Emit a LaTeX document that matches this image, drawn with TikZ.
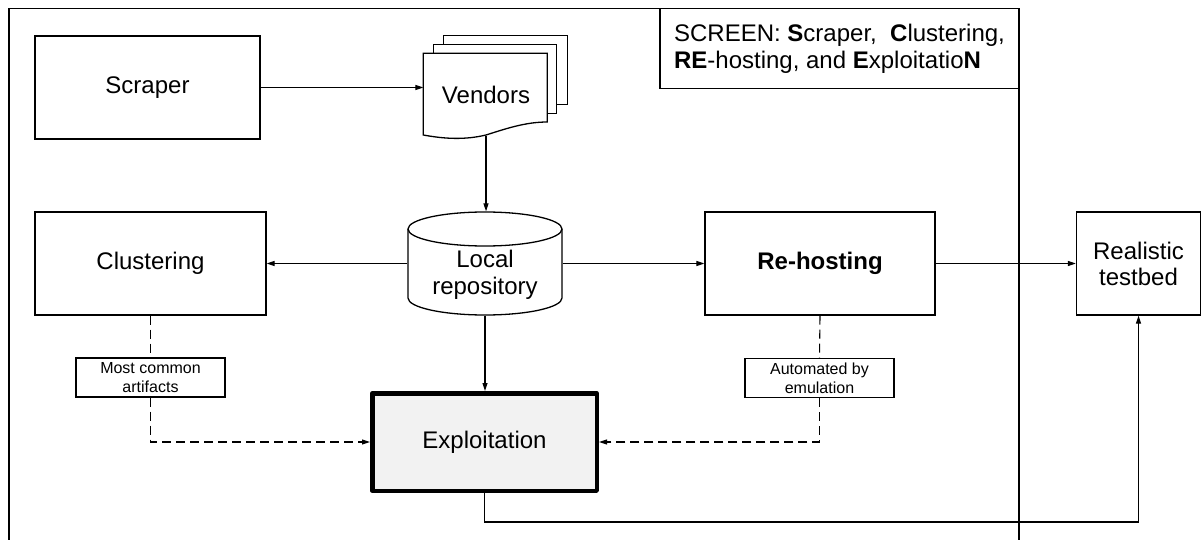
\documentclass[tikz,border=0pt]{standalone}
\usepackage{fontspec}
\setmainfont{Liberation Sans}
\usetikzlibrary{arrows.meta}
\newcommand\mainfs{\fontsize{24}{27}\selectfont}
\newcommand\smallfs{\fontsize{16}{19}\selectfont}
\begin{document}
\begin{tikzpicture}[x=1pt,y=-1pt,line width=1.3pt,
  box/.style={draw, rectangle, minimum height=103pt, inner sep=0pt, font=\mainfs, align=center},
  note/.style={draw, rectangle, minimum width=149pt, minimum height=39pt, inner sep=0pt, font=\smallfs, align=center},
  conn/.style={-{Triangle[length=8pt,width=5pt]}, line width=1.1pt},
  dashline/.style={line width=1.1pt, dash pattern=on 9pt off 5pt},
  dashconn/.style={conn, dash pattern=on 9pt off 5pt}]
\useasboundingbox (0,0) rectangle (1202,540);

% outer frame, open at the bottom
\draw[line width=1.5pt] (9,541) -- (9,8.5) -- (1019,8.5) -- (1019,541);

% title box
\node[draw, rectangle, inner xsep=0pt, minimum width=359pt, minimum height=80pt, align=left, font=\mainfs]
  (legend) at (839.5,48.5)
  {SCREEN: \textbf{S}craper, \ \textbf{C}lustering,\\\textbf{RE}-hosting, and \textbf{E}xploitatio\textbf{N}};

% processing boxes
\node[box, minimum width=225pt] (scraper) at (147.5,87.5) {Scraper};
\node[box, minimum width=231pt] (clust) at (150.5,263.5) {Clustering};
\node[box, minimum width=230pt, font=\mainfs\bfseries] (rehost) at (820,263.5) {Re-hosting};
\node[box, minimum width=124pt] (testbed) at (1138.5,263.5) {Realistic\\[-1pt]testbed};
\node[box, line width=4.5pt, line join=round, fill={rgb,255:red,242;green,242;blue,242},
  minimum width=224.5pt, minimum height=97.5pt] (exploit) at (484.5,442) {Exploitation};

% stacked vendor documents
\draw[fill=white] (443.3,35.7) rectangle (567.3,104.3);
\draw[fill=white] (433.3,44.3) rectangle (556.7,113.3);
\draw[fill=white] (423.3,53.3) -- (547.3,53.3) -- (547.3,122)
  .. controls (525,122) and (505,129) .. (486,135)
  .. controls (465,140) and (445,139) .. (423.3,135) -- cycle;
\node[minimum width=124pt, minimum height=80pt, inner sep=0pt, font=\mainfs] (vendors) at (486,95) {Vendors};

% local repository cylinder
\node[minimum width=154pt, minimum height=103pt, inner sep=0pt] (repo) at (485,263.5) {};
\draw[fill=white] (408,229) -- (408,298) arc[start angle=180, end angle=360, x radius=77pt, y radius=17pt] -- (562,229);
\draw[fill=white] (485,229) ellipse [x radius=77pt, y radius=17pt];
\node[font=\mainfs, align=center, inner sep=0pt] (repolabel) at (485,275) {Local\\repository};

% annotation notes
\node[note] (lab1) at (150.5,377.5) {Most common\\artifacts};
\node[note] (lab2) at (819.5,378) {Automated by\\emulation};

% connectors
\draw[conn] (scraper.east) -- (scraper.east -| vendors.west);
\draw[conn] (vendors.south) -- (vendors.south |- repo.north);
\draw[conn] (repo.west) -- (clust.east);
\draw[conn] (repo.east) -- (rehost.west);
\draw[conn] (rehost.east) -- (testbed.west);
\draw[conn] (repo.south) -- (repo.south |- exploit.north);
\draw[dashline] (clust.south) -- (lab1.north);
\draw[dashconn] (lab1.south) |- (exploit.west);
\draw[dashline] (rehost.south) -- (lab2.north);
\draw[dashconn] (lab2.south) |- (exploit.east);
\draw[conn] (exploit.south) -- ++(0,29) -| (testbed.south);
\end{tikzpicture}
\end{document}
